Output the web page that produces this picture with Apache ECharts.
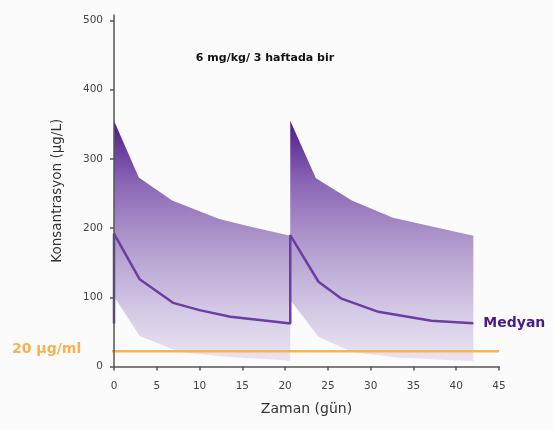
<!DOCTYPE html>
<html>
<head>
<meta charset="utf-8">
<script src="https://cdn.jsdelivr.net/npm/echarts@6/dist/echarts.min.js"></script>
<style>html,body{margin:0;padding:0;background:#fbfbfb;}#c{width:554px;height:430px;}</style>
</head>
<body>
<div id="c"></div>
<script>
// Data (day, concentration µg/L)
const upperBand = [[0,355],[2.9,273],[6.8,240],[12.3,213],[16,202],[20.6,189],[20.6,355],[23.6,272],[27.8,240],[32.6,215],[42,189]];
const lowerBand = [[0,101],[3.0,44],[7.7,21],[13,14],[19.4,9.5],[20.6,8],[20.6,96],[23.9,43],[27.8,21],[33,13],[42,7.5]];
const median = [[0,62],[0,192],[3.0,126],[6.9,92],[10,81.5],[13.6,72],[19.4,64],[20.6,62],[20.6,190],[23.9,122.5],[26.6,98],[30.9,79],[37.1,66],[42,62.5]];
const threshold = [[-1.2,22],[45,22]];
const xTicks = [0,5,10,15,20,25,30,35,40,45];
const yTicks = [0,100,200,300,400,500];
const titleText = '6 mg/kg/ 3 haftada bir';
const thresholdLabel = '20 µg/ml';
const medianLabel = 'Medyan';

const chart = echarts.init(document.getElementById('c'));
const bg = '#fbfbfb';
const ff = 'DejaVu Sans';
chart.setOption({
  backgroundColor: bg,
  animation: false,
  textStyle: {fontFamily: ff},
  title: {
    text: titleText, left: 260, top: 48, textAlign: 'center',
    textStyle: {fontSize: 11, fontWeight: 'bold', color: '#111', fontFamily: ff}
  },
  grid: {left: 114, right: 55, top: 15, bottom: 63.5},
  xAxis: {
    type: 'value', min: 0, max: 45, interval: 5, z: 10,
    name: 'Zaman (gün)', nameLocation: 'middle', nameGap: 36,
    nameTextStyle: {fontSize: 14, color: '#333', fontFamily: ff},
    axisLine: {lineStyle: {color: '#555', width: 1.5}},
    axisTick: {show: true, length: 4, lineStyle: {color: '#555', width: 1.5}, customValues: xTicks},
    axisLabel: {fontSize: 10.5, color: '#444', margin: 14, customValues: xTicks, fontFamily: ff},
    splitLine: {show: false}
  },
  yAxis: {
    type: 'value', min: 0, max: 508, z: 10,
    name: 'Konsantrasyon (µg/L)', nameLocation: 'middle', nameGap: 50, nameRotate: 90,
    nameTextStyle: {fontSize: 13.5, color: '#333', fontFamily: ff},
    axisLine: {show: true, lineStyle: {color: '#555', width: 1.5}},
    axisTick: {show: true, length: 4, lineStyle: {color: '#555', width: 1.5}, customValues: yTicks},
    axisLabel: {fontSize: 10.5, color: '#444', margin: 11, customValues: yTicks, fontFamily: ff},
    splitLine: {show: false}
  },
  series: [
    {
      type: 'line', data: upperBand, showSymbol: false, z: 2,
      lineStyle: {width: 0},
      areaStyle: {
        opacity: 1,
        color: new echarts.graphic.LinearGradient(0, 120, 0, 366, [
          {offset: 0, color: '#4c1b89'},
          {offset: 0.25, color: '#8a65b5'},
          {offset: 0.5, color: '#b09acd'},
          {offset: 0.8, color: '#d8cde7'},
          {offset: 1, color: '#ebe6f2'}
        ], true)
      }
    },
    {
      type: 'line', data: lowerBand, showSymbol: false, z: 3,
      lineStyle: {width: 0},
      areaStyle: {opacity: 1, color: bg}
    },
    {
      type: 'line', data: median, showSymbol: false, z: 4,
      lineStyle: {color: '#6a3ea3', width: 2.5},
      endLabel: {show: true, formatter: medianLabel, distance: 10, color: '#4a1a87', fontSize: 14, fontWeight: 'bold', fontFamily: ff}
    },
    {
      type: 'line', data: threshold, showSymbol: false, z: 5, clip: false,
      lineStyle: {color: '#f7b357', width: 2.5}
    }
  ],
  graphic: [
    {type: 'text', left: 12, top: 342, style: {text: thresholdLabel, fill: '#f5b24f', font: 'bold 14px "DejaVu Sans"'}}
  ]
});
</script>
</body>
</html>
